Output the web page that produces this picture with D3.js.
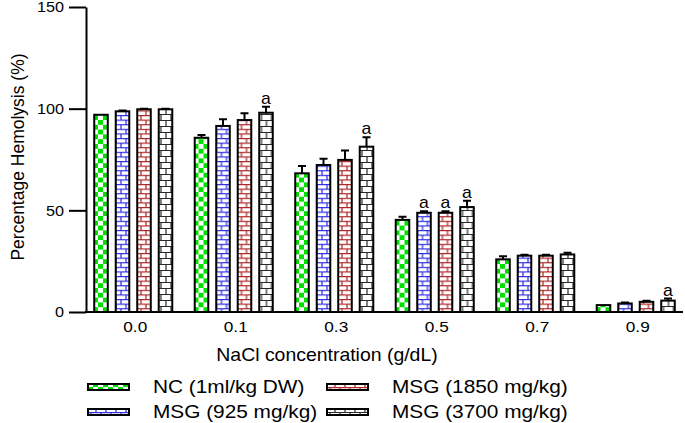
<!DOCTYPE html>
<meta charset="utf-8"/>
<style>
  body { margin: 0; background: #fff; }
  text { font-family: "Liberation Sans", Arial, sans-serif; fill: #000; }
</style>
<svg width="685" height="423"></svg>
<script src="https://d3js.org/d3.v7.min.js"></script>
<script>

var categories = ["0.0", "0.1", "0.3", "0.5", "0.7", "0.9"];
var seriesNames = ["NC (1ml/kg DW)", "MSG (925 mg/kg)", "MSG (1850 mg/kg)", "MSG (3700 mg/kg)"];
var nc      = [97.0, 85.7, 68.2, 45.3, 25.9, 3.4];
var msg925  = [98.7, 91.5, 72.3, 48.8, 27.7, 4.2];
var msg1850 = [99.7, 94.4, 74.8, 48.8, 27.7, 5.0];
var msg3700 = [99.7, 98.0, 81.3, 51.6, 28.3, 5.6];
var ncErr      = [0, 1.3, 3.6, 1.6, 1.5, 0];
var msg925Err  = [0.4, 3.3, 3.1, 0.8, 0.5, 0.5];
var msg1850Err = [0.3, 3.3, 4.6, 0.7, 0.5, 0.5];
var msg3700Err = [0.3, 3.0, 4.6, 3.1, 0.8, 1.0];
var msg925Sig  = ["", "", "", "a", "", ""];
var msg1850Sig = ["", "", "", "a", "", ""];
var msg3700Sig = ["", "a", "a", "a", "", "a"];
var yTicks = [0, 50, 100, 150];

var values = [nc, msg925, msg1850, msg3700],
    errors = [ncErr, msg925Err, msg1850Err, msg3700Err],
    sigs = [[], msg925Sig, msg1850Sig, msg3700Sig];

var svg = d3.select("svg");

// patterns
var defs = svg.append("defs");
var green = "#00e000", blue = "#2a2ae6", red = "#b02222", dark = "#2a2a2a";

var pc = defs.append("pattern").attr("id", "p0").attr("patternUnits", "userSpaceOnUse")
    .attr("width", 10).attr("height", 9.6);
pc.append("rect").attr("width", 10).attr("height", 9.6).attr("fill", "#fff");
pc.append("rect").attr("x", 0).attr("y", 0).attr("width", 5).attr("height", 4.8).attr("fill", green);
pc.append("rect").attr("x", 5).attr("y", 4.8).attr("width", 5).attr("height", 4.8).attr("fill", green);

function brick(id, color, h) {
  var p = defs.append("pattern").attr("id", id).attr("patternUnits", "userSpaceOnUse")
      .attr("width", 10).attr("height", h * 2);
  p.append("rect").attr("width", 10).attr("height", h * 2).attr("fill", "#fff");
  p.append("path")
      .attr("d", "M0,0.5H10M0," + (h + 0.5) + "H10M3,0.5V" + (h + 0.5) + "M8," + (h + 0.5) + "V" + (2 * h + 0.5))
      .attr("stroke", color).attr("stroke-width", 1.2).attr("fill", "none");
}
brick("p1", blue, 4.6);
brick("p2", red, 4.6);
brick("p3", dark, 6);

var x0 = d3.scaleBand().domain(categories).range([83, 686]);
var x1 = d3.scaleBand().domain(d3.range(4)).range([7.25, 93.25])
    .paddingInner(0.37).paddingOuter(0.185);
var y = d3.scaleLinear().domain([0, 150]).range([312, 7]);

// y axis
var yAxis = svg.append("g")
    .attr("transform", "translate(86,0)")
    .call(d3.axisLeft(y).tickValues(yTicks).tickSize(17).tickSizeOuter(0));
yAxis.select(".domain").attr("stroke-width", 2);
yAxis.selectAll(".tick line").attr("stroke-width", 2);
yAxis.selectAll(".tick text")
    .attr("x", 0)
    .attr("transform", "translate(-22,0) scale(1.08,1)")
    .style("font-size", "15px").style("font-family", "Liberation Sans, Arial, sans-serif");

// x axis line
svg.append("line")
    .attr("x1", 85).attr("x2", 683)
    .attr("y1", y(0)).attr("y2", y(0))
    .attr("stroke", "#000").attr("stroke-width", 2);

svg.append("g").selectAll("text")
  .data(categories)
  .join("text")
    .attr("text-anchor", "middle")
    .attr("transform", function(d) {
      return "translate(" + (x0(d) + x0.bandwidth() / 2 + 2) + ",331.5) scale(1.15,1)";
    })
    .style("font-size", "15px")
    .text(function(d) { return d; });

// bars
var groups = svg.append("g").selectAll("g")
  .data(categories)
  .join("g")
    .attr("transform", function(d) { return "translate(" + x0(d) + ",0)"; });

groups.each(function(c, ci) {
  var g = d3.select(this);
  values.forEach(function(vals, si) {
    var v = vals[ci], e = errors[si][ci], bx = x1(si), bw = x1.bandwidth(), cx = bx + bw / 2;
    if (e > 0) {
      g.append("path")
          .attr("d", "M" + cx + "," + y(v) + "V" + y(v + e) + "M" + (cx - 4) + "," + y(v + e) + "H" + (cx + 4))
          .attr("stroke", "#000").attr("stroke-width", 2).attr("fill", "none");
    }
    g.append("rect")
        .attr("x", bx).attr("width", bw)
        .attr("y", y(v)).attr("height", y(0) - y(v))
        .attr("fill", "url(#p" + si + ")")
        .attr("stroke", "#000").attr("stroke-width", 2);
    var s = sigs[si][ci];
    if (s) {
      g.append("text")
          .attr("text-anchor", "middle")
          .attr("transform", "translate(" + cx + "," + (y(v + e) - 3) + ") scale(1.1,1)")
          .style("font-size", "16px")
          .text(s);
    }
  });
});

// axis titles
svg.append("text")
    .attr("transform", "translate(24,157) rotate(-90)")
    .attr("text-anchor", "middle")
    .style("font-size", "17.5px")
    .text("Percentage Hemolysis (%)");

svg.append("text")
    .attr("text-anchor", "middle")
    .attr("transform", "translate(327,361) scale(1.08,1)")
    .style("font-size", "18px")
    .text("NaCl concentration (g/dL)");

// legend
var legendPos = [[88, 387], [88, 412], [327, 387], [327, 412]];
var legend = svg.append("g").selectAll("g")
  .data(seriesNames)
  .join("g")
    .attr("transform", function(d, i) { return "translate(" + legendPos[i][0] + "," + legendPos[i][1] + ")"; });

legend.append("rect")
    .attr("x", 0).attr("y", -3).attr("width", 41).attr("height", 6)
    .attr("fill", function(d, i) { return "url(#p" + i + ")"; })
    .attr("stroke", "#000").attr("stroke-width", 2);

legend.append("text")
    .attr("transform", "translate(65,6) scale(1.19,1)")
    .style("font-size", "17.5px")
    .text(function(d) { return d; });

</script>
